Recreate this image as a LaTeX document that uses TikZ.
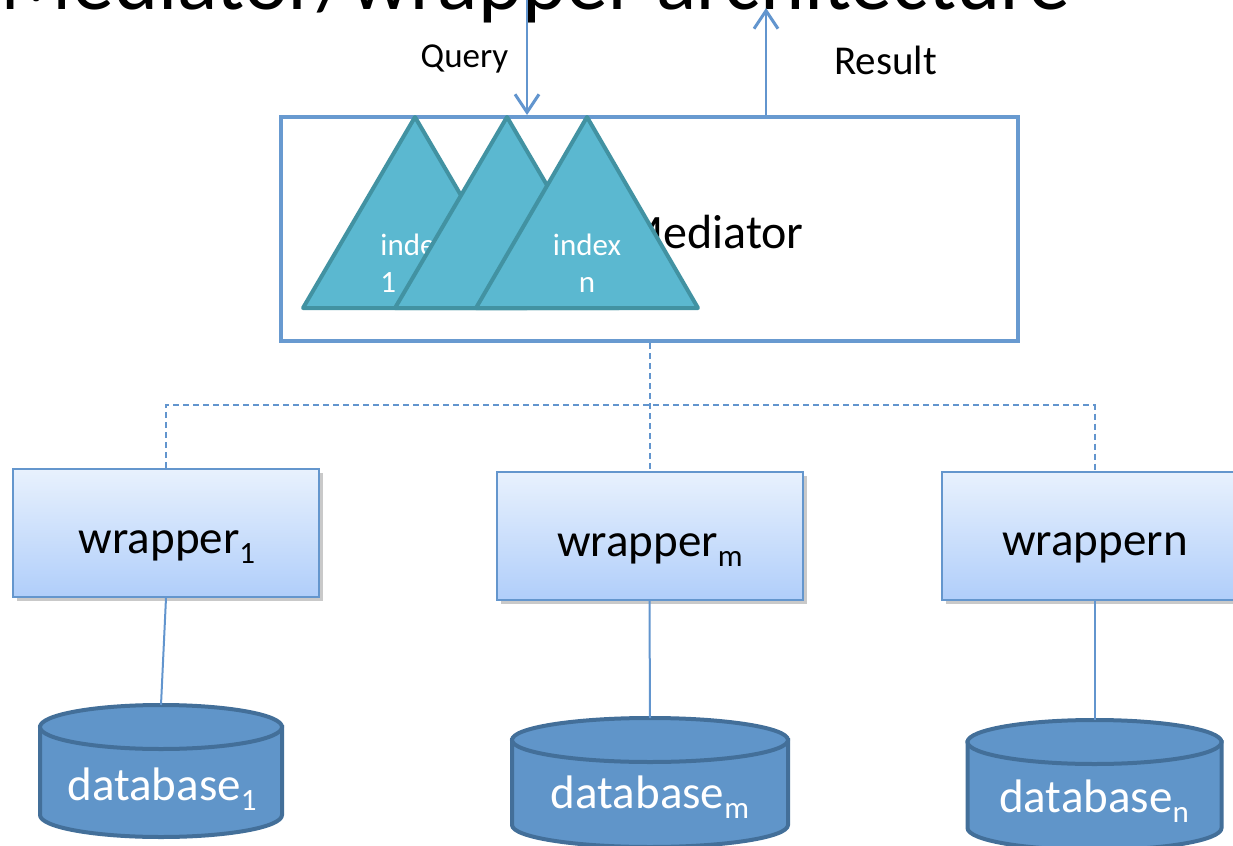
\documentclass[tikz,border=0pt]{standalone}
\usepackage{fontspec}
\setmainfont{Carlito}
\usetikzlibrary{arrows.meta,shadows}

\definecolor{flowblue}{RGB}{98,149,206}
\definecolor{medEdge}{RGB}{104,154,208}
\definecolor{wrapEdge}{RGB}{100,150,205}
\definecolor{wrapTop}{RGB}{232,241,253}
\definecolor{wrapBot}{RGB}{176,206,250}
\definecolor{triFill}{RGB}{91,184,208}
\definecolor{triEdge}{RGB}{66,146,162}
\definecolor{dbFill}{RGB}{96,149,201}
\definecolor{dbEdge}{RGB}{67,111,153}

% lowered, smaller index after a word
\newcommand\lowsub[1]{\raisebox{-0.22em}{\fontsize{15.5}{16}\selectfont #1}}

% cylinder: centre x, top-ellipse centre y, bottom-ellipse centre y, radii in pt
\newcommand\drum[5]{%
  \filldraw[dbstyle] (#1-2*#4,#2) -- (#1-2*#4,#3)
    arc[start angle=180,end angle=360,x radius=#4pt,y radius=#5pt]
    -- (#1+2*#4,#2) -- cycle;
  \filldraw[dbstyle] (#1,#2) ellipse[x radius=#4pt,y radius=#5pt];
}

\begin{document}
\begin{tikzpicture}[x=0.5pt,y=-0.5pt,
  flow/.style={draw=flowblue,line width=0.8pt,
    -{Straight Barb[length=9pt,width=12pt,line width=1.5pt]}},
  bus/.style={draw=flowblue,line width=1pt,dash pattern=on 3pt off 2pt},
  link/.style={draw=flowblue,line width=1pt},
  wrapbox/.style={draw=wrapEdge,line width=1pt,top color=wrapTop,bottom color=wrapBot,
    minimum width=153pt,minimum height=64pt,inner sep=0pt,
    drop shadow={shadow xshift=2pt,shadow yshift=-2pt,opacity=0.3,fill=black!70}},
  bigtxt/.style={font=\fontsize{23.5}{28}\selectfont,inner sep=0pt,anchor=base},
  idx/.style={font=\fontsize{15.5}{18}\selectfont,text=white,inner sep=0pt},
  tri/.style={fill=triFill,draw=triEdge,line width=2pt,line join=round},
  dbstyle/.style={fill=dbFill,draw=dbEdge,line width=2pt}]

\useasboundingbox (0,0) rectangle (1233,846);
\clip (0,0) rectangle (1233,846);

% heading, running off the top edge
\node[font=\fontsize{42}{48}\selectfont,anchor=base west,inner sep=0pt] (title)
  at (0,10) {Mediator/wrapper architecture};

% mediator box
\node[draw=medEdge,line width=2pt,fill=white,minimum width=368.5pt,
  minimum height=112pt,inner sep=0pt] (med) at (649.5,229) {};
\node[font=\fontsize{24}{29}\selectfont,anchor=base,inner sep=0pt] (medtxt)
  at (713,248) {Mediator};

% query in, result out
\coordinate (qtop) at (527,0);
\coordinate (rtop) at (766,8);
\draw[flow] (qtop) -- (qtop |- med.north);
\draw[flow] (rtop |- med.north) -- (rtop);
\node[font=\fontsize{17.5}{21}\selectfont,anchor=base,inner sep=0pt] (qlab)
  at (464.5,68) {Query};
\node[font=\fontsize{20.5}{24}\selectfont,anchor=base,inner sep=0pt] (rlab)
  at (885.5,74) {Result};

% index triangles
\draw[tri] (415,117) -- (527,308) -- (303,308) -- cycle;
\node[idx,anchor=base west] (idx1a) at (380,255) {index};
\node[idx,anchor=base west] (idx1b) at (380,292) {1};
\draw[tri] (507,117) -- (619,308) -- (395,308) -- cycle;
\draw[tri] (587,117) -- (698,308) -- (476,308) -- cycle;
\node[idx,anchor=base] (idxna) at (587,255) {index};
\node[idx,anchor=base] (idxnb) at (587,292) {n};

% wrappers
\node[wrapbox] (w1) at (166,533) {};
\node[wrapbox] (wm) at (649.5,536) {};
\node[wrapbox] (wn) at (1094.5,536) {};
\node[bigtxt] (w1t) at (167,553) {wrapper\lowsub{1}};
\node[bigtxt] (wmt) at (650,556) {wrapper\lowsub{m}};
\node[bigtxt] (wnt) at (1095,555) {wrappern};

% dashed bus from mediator to wrappers
\coordinate (busy) at (0,405);
\draw[bus] (med.south) -- (wm.north);
\draw[bus] (w1.north) -- (w1.north |- busy) -- (wn.north |- busy) -- (wn.north);

% databases
\drum{161}{727}{815}{60.5}{11}
\drum{650}{740}{825}{69}{11}
\drum{1094.5}{742}{828}{63.5}{11}
\coordinate (db1top) at (161,705);
\coordinate (dbmtop) at (650,718);
\coordinate (dbntop) at (1094.5,720);
\node[bigtxt,text=white] (db1t) at (162,800) {database\lowsub{1}};
\node[bigtxt,text=white] (dbmt) at (650,808) {database\lowsub{m}};
\node[bigtxt,text=white] (dbnt) at (1094,812) {database\lowsub{n}};

% wrapper to database links
\draw[link] (w1.south) -- (db1top);
\draw[link] (wm.south) -- (dbmtop);
\draw[link] (wn.south) -- (dbntop);

\end{tikzpicture}
\end{document}
